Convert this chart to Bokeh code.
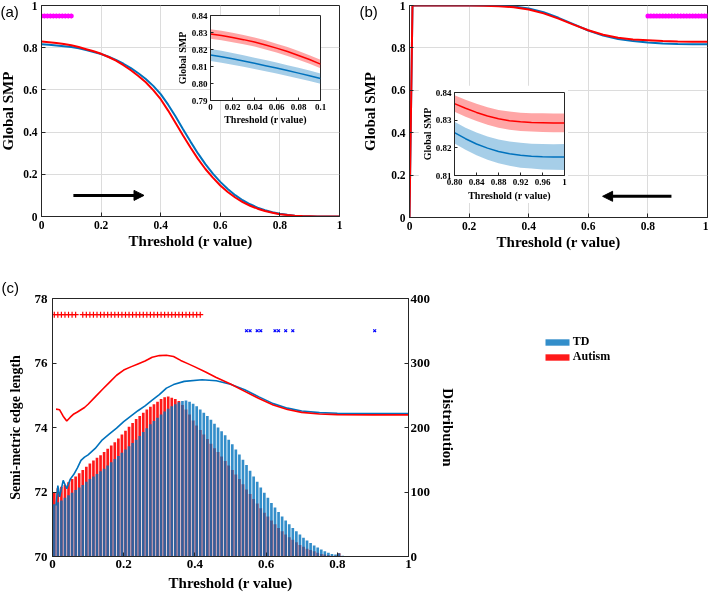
from bokeh.plotting import figure
from bokeh.models import (Range1d, LinearAxis, FixedTicker, Arrow, NormalHead,
                          Label, Legend, LegendItem)
from bokeh.embed import file_html
from bokeh.resources import INLINE

# ======================= DATA =======================
# ---- panel (a): Global SMP, threshold increasing ----
thr_a = [round(0.025 * i, 3) for i in range(41)]
smp_td_a = [0.8168, 0.8135, 0.8100, 0.8065, 0.8029, 0.797, 0.789, 0.780, 0.770, 0.757,
            0.742, 0.724, 0.703, 0.679, 0.652, 0.619, 0.580, 0.530, 0.474, 0.414,
            0.355, 0.299, 0.248, 0.203, 0.164, 0.130, 0.101, 0.077, 0.058, 0.042,
            0.030, 0.020, 0.013, 0.008, 0.004, 0.002, 0.001, 0.0, 0.0, 0.0, 0.0]
smp_asd_a = [0.8291, 0.8262, 0.8227, 0.8177, 0.8114, 0.803, 0.793, 0.783, 0.771, 0.756,
             0.739, 0.717, 0.693, 0.666, 0.636, 0.599, 0.556, 0.502, 0.443, 0.384,
             0.327, 0.273, 0.225, 0.184, 0.147, 0.116, 0.090, 0.068, 0.051, 0.037,
             0.026, 0.018, 0.011, 0.007, 0.004, 0.002, 0.001, 0.0, 0.0, 0.0, 0.0]
sig_thr_a = [0.00, 0.01, 0.02, 0.03, 0.04, 0.05, 0.06, 0.07, 0.08, 0.09, 0.10]
sig_level = 0.95
arrow_a = {"x0": 0.107, "y0": 0.1, "x1": 0.344, "y1": 0.1}

# inset (a)
ins_thr_a = [0.00, 0.01, 0.02, 0.03, 0.04, 0.05, 0.06, 0.07, 0.08, 0.09, 0.10]
ins_asd_a = [0.8291, 0.8282, 0.8271, 0.8258, 0.8244, 0.8227, 0.8208, 0.8188, 0.8165, 0.8141, 0.8114]
ins_asd_a_ci = [0.0028, 0.0028, 0.0028, 0.0027, 0.0027, 0.0027, 0.0026, 0.0026, 0.0026, 0.0025, 0.0025]
ins_td_a = [0.8168, 0.8157, 0.8145, 0.8132, 0.8119, 0.8105, 0.8091, 0.8076, 0.8061, 0.8045, 0.8029]
ins_td_a_ci = [0.0035, 0.0035, 0.0034, 0.0034, 0.0033, 0.0033, 0.0032, 0.0032, 0.0031, 0.0031, 0.0030]

# ---- panel (b): Global SMP, threshold decreasing ----
thr_b = [0, 0.01, 0.05, 0.10, 0.15, 0.20, 0.25, 0.30, 0.35, 0.40, 0.45,
         0.50, 0.55, 0.60, 0.65, 0.70, 0.75, 0.80, 0.85, 0.90, 0.95, 1.00]
smp_asd_b = [0, 1.0, 1.0, 1.0, 1.0, 1.0, 0.999, 0.997, 0.992, 0.981, 0.963,
             0.938, 0.910, 0.883, 0.862, 0.848, 0.840, 0.836, 0.8322, 0.8298, 0.8291, 0.829]
smp_td_b = [0, 1.0, 1.0, 1.0, 1.0, 1.0, 1.0, 0.999, 0.995, 0.986, 0.968,
            0.942, 0.912, 0.882, 0.858, 0.842, 0.832, 0.8255, 0.8205, 0.8179, 0.8168, 0.8167]
sig_thr_b = [0.80, 0.81, 0.82, 0.83, 0.84, 0.85, 0.86, 0.87, 0.88, 0.89, 0.90,
             0.91, 0.92, 0.93, 0.94, 0.95, 0.96, 0.97, 0.98, 0.99, 1.00]
arrow_b = {"x0": 0.879, "y0": 0.1, "x1": 0.648, "y1": 0.1}

# inset (b)
ins_thr_b = [0.80, 0.82, 0.84, 0.86, 0.88, 0.90, 0.92, 0.94, 0.96, 0.98, 1.00]
ins_asd_b = [0.8360, 0.8343, 0.8328, 0.8315, 0.8305, 0.8298, 0.8294, 0.8292, 0.8291, 0.8290, 0.8290]
ins_asd_b_ci = [0.0030, 0.0031, 0.0031, 0.0032, 0.0032, 0.0033, 0.0033, 0.0033, 0.0034, 0.0034, 0.0034]
ins_td_b = [0.8255, 0.8233, 0.8214, 0.8199, 0.8187, 0.8179, 0.8173, 0.8170, 0.8168, 0.8167, 0.8167]
ins_td_b_ci = [0.0039, 0.0040, 0.0041, 0.0042, 0.0043, 0.0044, 0.0045, 0.0045, 0.0046, 0.0046, 0.0047]

# ---- panel (c): semi-metric edge length + distribution ----
td_counts = [81, 84, 87, 91, 95, 99, 103, 107, 111, 116,
             120, 124, 128, 132, 136, 141, 146, 151, 156, 161,
             166, 171, 176, 181, 187, 193, 199, 205, 210, 215,
             220, 225, 229, 233, 236, 239, 241, 242, 240, 237,
             233, 228, 223, 218, 212, 206, 200, 194, 188, 181,
             174, 166, 158, 150, 142, 133, 124, 116, 107, 99,
             91, 83, 76, 69, 62, 56, 50, 44, 39, 34,
             29, 25, 21, 17, 14, 11, 8, 6, 4, 3,
             5, 1, 0.5]
asd_counts = [100, 106, 108, 111, 115, 120, 124, 129, 134, 139,
              144, 149, 153, 157, 162, 167, 172, 177, 183, 189,
              195, 201, 207, 213, 218, 223, 228, 232, 236, 240,
              244, 247, 248, 246, 244, 241, 235, 228, 220, 211,
              203, 196, 189, 182, 175, 168, 162, 155, 148, 141,
              134, 127, 120, 112, 104, 97, 89, 82, 75, 68,
              62, 56, 50, 44, 39, 34, 30, 26, 22, 18,
              15, 12, 10, 8, 6, 4, 3, 2, 1, 1,
              5, 0, 0]
bin_centers = [round(0.005 + 0.01 * i, 3) for i in range(len(td_counts))]

asd_line_thr = [0.01, 0.02, 0.03, 0.04, 0.05, 0.06, 0.07, 0.08, 0.09, 0.10,
                0.12, 0.14, 0.16, 0.18, 0.20, 0.22, 0.24, 0.26, 0.28, 0.30,
                0.32, 0.34, 0.36, 0.38, 0.40, 0.43, 0.46, 0.50, 0.54, 0.58,
                0.62, 0.66, 0.70, 0.75, 0.80, 0.90, 1.00]
asd_line = [74.57, 74.55, 74.35, 74.20, 74.32, 74.42, 74.48, 74.55, 74.62, 74.72,
            74.95, 75.18, 75.40, 75.62, 75.78, 75.88, 75.97, 76.06, 76.18, 76.23,
            76.24, 76.20, 76.08, 75.98, 75.88, 75.72, 75.55, 75.35, 75.12, 74.90,
            74.70, 74.56, 74.47, 74.42, 74.40, 74.39, 74.39]
td_line_thr = [0.01, 0.015, 0.02, 0.03, 0.04, 0.05, 0.06, 0.07, 0.08, 0.09,
               0.10, 0.12, 0.14, 0.16, 0.18, 0.20, 0.22, 0.24, 0.26, 0.28,
               0.30, 0.32, 0.34, 0.37, 0.42, 0.46, 0.50, 0.54, 0.58, 0.62,
               0.66, 0.70, 0.75, 0.80, 0.90, 1.00]
td_line = [71.58, 72.20, 71.85, 72.36, 72.10, 72.40, 72.55, 72.75, 72.98, 73.08,
           73.15, 73.35, 73.62, 73.80, 73.98, 74.18, 74.35, 74.52, 74.67, 74.85,
           75.02, 75.22, 75.33, 75.43, 75.48, 75.45, 75.34, 75.17, 74.95, 74.74,
           74.60, 74.51, 74.46, 74.44, 74.43, 74.43]
sig_asd_thr = [0.005, 0.015, 0.025, 0.035, 0.045, 0.055, 0.065,
               0.085, 0.095, 0.105, 0.115, 0.125, 0.135, 0.145, 0.155, 0.165, 0.175,
               0.185, 0.195, 0.205, 0.215, 0.225, 0.235, 0.245, 0.255, 0.265, 0.275,
               0.285, 0.295, 0.305, 0.315, 0.325, 0.335, 0.345, 0.355, 0.365, 0.375,
               0.385, 0.395, 0.405, 0.415]
sig_asd_level = 77.5
sig_td_thr = [0.545, 0.555, 0.575, 0.585, 0.625, 0.635, 0.655, 0.675, 0.905]
sig_td_level = 77.0

# ticks
ticks_01 = [0, 0.2, 0.4, 0.6, 0.8, 1]
labels_01 = ["0", "0.2", "0.4", "0.6", "0.8", "1"]
ins_a_xticks = [0, 0.02, 0.04, 0.06, 0.08, 0.1]
ins_a_xlabels = ["0", "0.02", "0.04", "0.06", "0.08", "0.1"]
ins_a_yticks = [0.79, 0.8, 0.81, 0.82, 0.83, 0.84]
ins_a_ylabels = ["0.79", "0.80", "0.81", "0.82", "0.83", "0.84"]
ins_b_xticks = [0.8, 0.84, 0.88, 0.92, 0.96, 1]
ins_b_xlabels = ["0.80", "0.84", "0.88", "0.92", "0.96", "1"]
ins_b_yticks = [0.81, 0.82, 0.83, 0.84]
ins_b_ylabels = ["0.81", "0.82", "0.83", "0.84"]
c_yticks = [70, 72, 74, 76, 78]
c_ylabels = ["70", "72", "74", "76", "78"]
c_rticks = [0, 100, 200, 300, 400]
c_rlabels = ["0", "100", "200", "300", "400"]

# ======================= STYLE =======================
INK = "#262626"
SERIF = "Liberation Serif"
BLUE = "#0072bd"
RED = "#ff0000"
MAGENTA = "#ff00ff"
GRID = "#dcdcdc"


def style_axis(ax, ticks, labels, tick_px, title_px, std, title_std):
    ax.ticker = FixedTicker(ticks=ticks)
    ax.major_label_overrides = {t: l for t, l in zip(ticks, labels)}
    ax.minor_tick_line_color = None
    ax.major_tick_in = 4
    ax.major_tick_out = 0
    ax.major_tick_line_color = INK
    ax.axis_line_color = INK
    ax.major_label_text_font = SERIF
    ax.major_label_text_font_style = "bold"
    ax.major_label_text_font_size = f"{tick_px}px"
    ax.major_label_text_color = "black"
    ax.major_label_standoff = std
    ax.axis_label_text_font = SERIF
    ax.axis_label_text_font_style = "bold"
    ax.axis_label_text_font_size = f"{title_px}px"
    ax.axis_label_text_color = "black"
    ax.axis_label_standoff = title_std


def place(p, left, top, z):
    p.styles = {"position": "fixed", "left": f"{left}px", "top": f"{top}px",
                "z-index": str(z), "margin": "0px"}


def base_fig(left, top, fw, fh, xr, yr, mb, z):
    """mb = (left, right, top, bottom) borders around a frame of fw x fh."""
    w = mb[0] + fw + mb[1]
    h = mb[2] + fh + mb[3]
    p = figure(width=w, height=h, frame_width=fw, frame_height=fh,
               x_range=Range1d(*xr), y_range=Range1d(*yr),
               title=None, output_backend="svg", toolbar_location=None,
               min_border_left=mb[0], min_border_right=mb[1],
               min_border_top=mb[2], min_border_bottom=mb[3])
    p.outline_line_color = INK
    p.outline_line_alpha = 1
    p.background_fill_color = "white"
    p.border_fill_color = "white"
    place(p, left, top, z)
    return p


def grid_on(p, xt, yt):
    p.xgrid.ticker = FixedTicker(ticks=xt)
    p.ygrid.ticker = FixedTicker(ticks=yt)
    p.xgrid.grid_line_color = GRID
    p.ygrid.grid_line_color = GRID


def grid_off(p):
    p.xgrid.visible = False
    p.ygrid.visible = False


def tag_fig(text, left, top):
    t = figure(width=26, height=20, frame_width=26, frame_height=20,
               x_range=Range1d(0, 1), y_range=Range1d(0, 1), title=None,
               output_backend="svg", toolbar_location=None, min_border=0)
    t.axis.visible = False
    grid_off(t)
    t.outline_line_color = None
    t.background_fill_alpha = 0
    t.border_fill_alpha = 0
    t.add_layout(Label(x=0, y=0.5, text=text, text_font="Liberation Sans",
                       text_font_size="15px", text_baseline="middle",
                       text_align="left", text_color="black"))
    place(t, left, top, 5)
    return t


# ======================= PANEL (a) =======================
fa = base_fig(-3, 0, 298, 211, (0, 1), (0, 1), (44, 11, 5, 40), 1)
fa.xaxis.axis_label = "Threshold (r value)"
fa.yaxis.axis_label = "Global SMP"
style_axis(fa.xaxis[0], ticks_01, labels_01, 11.5, 15, 4, 1)
style_axis(fa.yaxis[0], ticks_01, labels_01, 11.5, 15, 4, 4)
grid_on(fa, ticks_01, ticks_01)
fa.line(thr_a, smp_td_a, line_color=BLUE, line_width=2)
fa.line(thr_a, smp_asd_a, line_color=RED, line_width=2)
fa.scatter(sig_thr_a, [sig_level] * len(sig_thr_a), marker="asterisk", size=5,
           line_color=MAGENTA, line_width=1.5)
fa.add_layout(Arrow(end=NormalHead(size=10, fill_color="black", line_color="black"),
                    x_start=arrow_a["x0"], y_start=arrow_a["y0"],
                    x_end=arrow_a["x1"], y_end=arrow_a["y1"],
                    line_width=3, line_color="black"))

# inset (a)  (transparent surround so the main curves stay visible)
ia = base_fig(173, 6, 110, 85, (0, 0.1), (0.79, 0.84), (37, 16, 9, 27), 2)
ia.border_fill_alpha = 0
ia.xaxis.axis_label = "Threshold (r value)"
ia.yaxis.axis_label = "Global SMP"
style_axis(ia.xaxis[0], ins_a_xticks, ins_a_xlabels, 9, 10, 3, 1)
style_axis(ia.yaxis[0], ins_a_yticks, ins_a_ylabels, 9, 10, 3, 1)
ia.xaxis[0].major_tick_in = 3
ia.yaxis[0].major_tick_in = 3
grid_off(ia)
ia.varea(x=ins_thr_a, y1=[v - c for v, c in zip(ins_td_a, ins_td_a_ci)],
         y2=[v + c for v, c in zip(ins_td_a, ins_td_a_ci)], fill_color=BLUE, fill_alpha=0.35)
ia.varea(x=ins_thr_a, y1=[v - c for v, c in zip(ins_asd_a, ins_asd_a_ci)],
         y2=[v + c for v, c in zip(ins_asd_a, ins_asd_a_ci)], fill_color=RED, fill_alpha=0.35)
ia.line(ins_thr_a, ins_td_a, line_color=BLUE, line_width=1.5)
ia.line(ins_thr_a, ins_asd_a, line_color=RED, line_width=1.5)

# ======================= PANEL (b) =======================
fb = base_fig(352, 0, 298, 212, (0, 1), (0, 1), (57, 1, 5, 40), 1)
fb.xaxis.axis_label = "Threshold (r value)"
fb.yaxis.axis_label = "Global SMP"
style_axis(fb.xaxis[0], ticks_01, labels_01, 11.5, 15, 4, 1)
style_axis(fb.yaxis[0], ticks_01, labels_01, 11.5, 15, 4, 10)
grid_on(fb, ticks_01, ticks_01)
fb.line(thr_b, smp_td_b, line_color=BLUE, line_width=2)
fb.line(thr_b, smp_asd_b, line_color=RED, line_width=2)
fb.scatter(sig_thr_b, [sig_level] * len(sig_thr_b), marker="asterisk", size=5,
           line_color=MAGENTA, line_width=1.5)
fb.add_layout(Arrow(end=NormalHead(size=10, fill_color="black", line_color="black"),
                    x_start=arrow_b["x0"], y_start=arrow_b["y0"],
                    x_end=arrow_b["x1"], y_end=arrow_b["y1"],
                    line_width=3, line_color="black"))

# inset (b)
ib = base_fig(418, 85, 110, 83, (0.8, 1.0), (0.81, 0.84), (36, 4, 7, 28), 2)
ib.xaxis.axis_label = "Threshold (r value)"
ib.yaxis.axis_label = "Global SMP"
style_axis(ib.xaxis[0], ins_b_xticks, ins_b_xlabels, 9, 10, 3, 2)
style_axis(ib.yaxis[0], ins_b_yticks, ins_b_ylabels, 9, 10, 3, 0)
ib.xaxis[0].major_tick_in = 3
ib.yaxis[0].major_tick_in = 3
grid_off(ib)
ib.varea(x=ins_thr_b, y1=[v - c for v, c in zip(ins_td_b, ins_td_b_ci)],
         y2=[v + c for v, c in zip(ins_td_b, ins_td_b_ci)], fill_color=BLUE, fill_alpha=0.35)
ib.varea(x=ins_thr_b, y1=[v - c for v, c in zip(ins_asd_b, ins_asd_b_ci)],
         y2=[v + c for v, c in zip(ins_asd_b, ins_asd_b_ci)], fill_color=RED, fill_alpha=0.35)
ib.line(ins_thr_b, ins_td_b, line_color=BLUE, line_width=1.5)
ib.line(ins_thr_b, ins_asd_b, line_color=RED, line_width=1.5)

# ======================= PANEL (c) =======================
fc = base_fig(2, 270, 356, 258, (0, 1), (70, 78), (50, 232, 28, 37), 1)
fc.xaxis.axis_label = "Threshold (r value)"
fc.yaxis.axis_label = "Semi-metric edge length"
style_axis(fc.xaxis[0], ticks_01, labels_01, 13, 15, 3, 4)
style_axis(fc.yaxis[0], c_yticks, c_ylabels, 13, 14, 5, 9)
grid_off(fc)
fc.extra_y_ranges = {"dist": Range1d(0, 400)}
ax_r = LinearAxis(y_range_name="dist", axis_label="Distribution")
style_axis(ax_r, c_rticks, c_rlabels, 13, 15, 2, 7)
fc.add_layout(ax_r, "right")

bar_asd = fc.vbar(x=bin_centers, top=asd_counts, width=0.0075, y_range_name="dist",
                  fill_color=RED, fill_alpha=0.9, line_color=None)
bar_td = fc.vbar(x=bin_centers, top=td_counts, width=0.0075, y_range_name="dist",
                 fill_color=BLUE, fill_alpha=0.8, line_color=None)
fc.line(td_line_thr, td_line, line_color=BLUE, line_width=1.6)
fc.line(asd_line_thr, asd_line, line_color=RED, line_width=1.6)
fc.scatter(sig_asd_thr, [sig_asd_level] * len(sig_asd_thr), marker="cross", size=6,
           line_color=RED, line_width=1.2)
fc.scatter(sig_td_thr, [sig_td_level] * len(sig_td_thr), marker="x", size=4,
           line_color="#0000ff", line_width=1.2)

legend = Legend(items=[LegendItem(label="TD", renderers=[bar_td]),
                       LegendItem(label="Autism", renderers=[bar_asd])],
                location=(-152, 192), orientation="vertical",
                padding=0, margin=0, spacing=0,
                glyph_width=30, glyph_height=8, label_height=15, label_standoff=1,
                label_text_font=SERIF, label_text_font_style="bold",
                label_text_font_size="12px", label_text_color="black",
                border_line_color=None, background_fill_alpha=0)
fc.add_layout(legend, "right")

# panel tags
tag_a = tag_fig("(a)", 0, 1)
tag_b = tag_fig("(b)", 359, 1)
tag_c = tag_fig("(c)", 1, 277)

open("out.html", "w").write(file_html([fa, fb, fc, ia, ib, tag_a, tag_b, tag_c], INLINE))
